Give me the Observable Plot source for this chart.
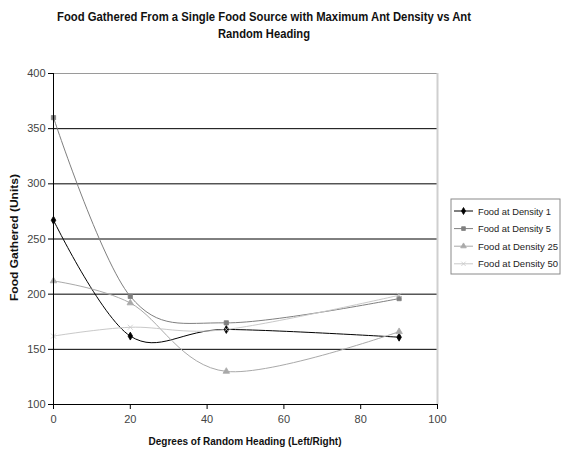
<!DOCTYPE html>
<html>
<head>
<meta charset="utf-8">
<script src="https://cdn.jsdelivr.net/npm/d3@7"></script>
<script src="https://cdn.jsdelivr.net/npm/@observablehq/plot@0.6"></script>
<style>
  body { margin: 0; background: #fff; }
  #chart { position: relative; width: 561px; height: 451px; }
</style>
</head>
<body>
<div id="chart"></div>
<script>
// Random heading (degrees left/right) tested in each run
const headings = [0, 20, 45, 90];

// Food gathered (units) at each heading, one array per ant density
const density1 = [267, 162, 168, 161];
const density5 = [360, 198, 174, 196];
const density25 = [212, 192, 130, 166];
const density50 = [162, 170, 168, 199];

const seriesNames = ["Food at Density 1", "Food at Density 5", "Food at Density 25", "Food at Density 50"];
const seriesValues = [density1, density5, density25, density50];
const seriesColors = ["#000000", "#7f7f7f", "#a9a9a9", "#c9c9c9"];
const seriesSymbols = ["diamond", "square", "triangle", "times"];

const yTicks = [100, 150, 200, 250, 300, 350, 400];
const xTicks = [0, 20, 40, 60, 80, 100];
const gridLines = [150, 200, 250, 300, 350];

const titleLines = ["Food Gathered From a Single Food Source with Maximum Ant Density vs Ant", "Random Heading"];
const xLabel = "Degrees of Random Heading (Left/Right)";
const yLabel = "Food Gathered (Units)";

// Long-format rows for the line and dot marks
const rows = seriesNames.flatMap((name, i) =>
  headings.map((h, j) => ({ series: name, heading: h, food: seriesValues[i][j] }))
);

const font = "'Liberation Sans', Arial, sans-serif";

const plot = Plot.plot({
  width: 561,
  height: 451,
  marginLeft: 53,
  marginRight: 124,
  marginTop: 73,
  marginBottom: 47,
  style: { fontFamily: font, fontSize: "11px", background: "#fff", overflow: "visible" },
  x: { domain: [0, 100] },
  y: { domain: [100, 400] },
  color: { domain: seriesNames, range: seriesColors },
  symbol: { domain: seriesNames, range: seriesSymbols },
  marks: [
    Plot.ruleY(gridLines, { stroke: "#000", strokeWidth: 1 }),
    Plot.ruleY([400], { stroke: "#9a9a9a", strokeWidth: 1 }),
    Plot.ruleX([100], { stroke: "#cfcfcf", strokeWidth: 2 }),
    Plot.line(rows, { x: "heading", y: "food", z: "series", stroke: "series", curve: "cardinal", strokeWidth: 1 }),
    Plot.dot(rows, { x: "heading", y: "food", symbol: "series", fill: "series", stroke: "series", strokeWidth: 0.8, r: 2.4 }),
    Plot.ruleX([0], { stroke: "#000" }),
    Plot.ruleY([100], { stroke: "#000" }),
    Plot.axisY({ ticks: yTicks, tickSize: 5, tickPadding: 3, stroke: "#000", fill: "#444", label: null }),
    Plot.axisX({ ticks: xTicks, tickSize: 5, tickPadding: 6, stroke: "#000", fill: "#444", label: null })
  ]
});

document.getElementById("chart").appendChild(plot);

const svg = d3.select(plot);
const xs = plot.scale("x");
const ys = plot.scale("y");
const plotLeft = xs.range[0], plotRight = xs.range[1];
const plotBottom = ys.range[0], plotTop = ys.range[1];

// Title
svg.append("text")
  .attr("x", 264).attr("y", 21)
  .attr("text-anchor", "middle")
  .attr("font-family", font).attr("font-weight", "bold").attr("font-size", 12.5)
  .attr("fill", "#111")
  .attr("textLength", 414).attr("lengthAdjust", "spacingAndGlyphs")
  .text(titleLines[0]);
svg.append("text")
  .attr("x", 264).attr("y", 38)
  .attr("text-anchor", "middle")
  .attr("font-family", font).attr("font-weight", "bold").attr("font-size", 12.5)
  .attr("fill", "#111")
  .attr("textLength", 92).attr("lengthAdjust", "spacingAndGlyphs")
  .text(titleLines[1]);

// Axis titles
svg.append("text")
  .attr("x", (plotLeft + plotRight) / 2).attr("y", plotBottom + 41)
  .attr("text-anchor", "middle")
  .attr("font-family", font).attr("font-weight", "bold").attr("font-size", 11)
  .attr("fill", "#111")
  .attr("textLength", 193).attr("lengthAdjust", "spacingAndGlyphs")
  .text(xLabel);
svg.append("text")
  .attr("transform", `translate(18,${(plotTop + plotBottom) / 2 - 1}) rotate(-90)`)
  .attr("text-anchor", "middle")
  .attr("font-family", font).attr("font-weight", "bold").attr("font-size", 11)
  .attr("fill", "#111")
  .attr("textLength", 127).attr("lengthAdjust", "spacingAndGlyphs")
  .text(yLabel);

// Legend box with one line + marker sample per series
const legend = svg.append("g").attr("transform", `translate(${plotRight + 14},${plotTop + 126})`);
legend.append("rect")
  .attr("x", 0).attr("y", 0).attr("width", 109).attr("height", 75)
  .attr("fill", "#fff").attr("stroke", "#8a8a8a");
const symbolTypes = {
  diamond: d3.symbolDiamond, square: d3.symbolSquare,
  triangle: d3.symbolTriangle, times: d3.symbolTimes
};
seriesNames.forEach((name, i) => {
  const cy = 12 + i * 17.6;
  const g = legend.append("g");
  g.append("line")
    .attr("x1", 3).attr("x2", 22).attr("y1", cy).attr("y2", cy)
    .attr("stroke", seriesColors[i]).attr("stroke-width", 1);
  g.append("path")
    .attr("transform", `translate(12.5,${cy})`)
    .attr("d", d3.symbol(symbolTypes[seriesSymbols[i]], 14)())
    .attr("fill", seriesColors[i]).attr("stroke", seriesColors[i]).attr("stroke-width", 0.8);
  g.append("text")
    .attr("x", 27).attr("y", cy + 3.5)
    .attr("text-anchor", "start")
    .attr("font-family", font).attr("font-size", 9.8)
    .attr("fill", "#222")
    .attr("textLength", name.length > 17 ? 80 : 73).attr("lengthAdjust", "spacingAndGlyphs")
    .text(name);
});
</script>
</body>
</html>
